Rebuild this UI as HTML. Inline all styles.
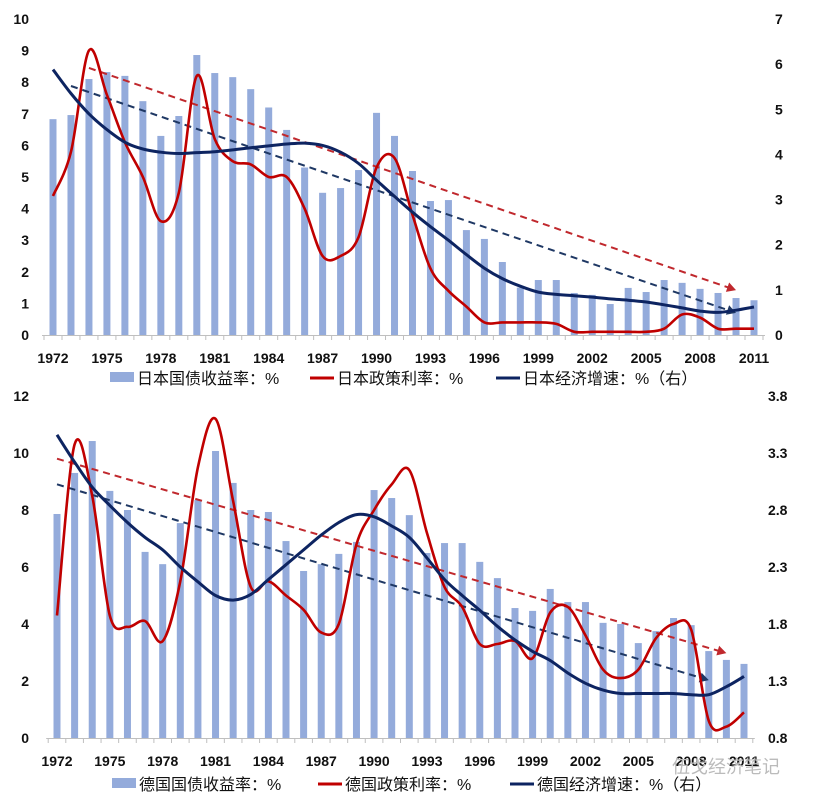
<!DOCTYPE html>
<html><head><meta charset="utf-8">
<style>
html,body{margin:0;padding:0;background:#fff;}
svg{display:block;font-family:"Liberation Sans","Noto Sans CJK SC",sans-serif;}
.tk{font-size:14px;font-weight:bold;fill:#111;}
.lg{font-size:16px;fill:#111;}
</style></head><body>
<svg id="chart" width="820" height="802" viewBox="0 0 820 802"></svg>
<script>
// ---------- data ----------
const years = [];
for (let y = 1972; y <= 2011; y++) years.push(y);
const yearTicks = [1972,1975,1978,1981,1984,1987,1990,1993,1996,1999,2002,2005,2008,2011];

const jpBond = [6.83,6.96,8.1,8.32,8.2,7.4,6.3,6.93,8.86,8.29,8.16,7.78,7.2,6.49,5.3,4.5,4.65,5.22,7.03,6.3,5.19,4.24,4.27,3.32,3.04,2.31,1.5,1.74,1.74,1.33,1.27,0.98,1.49,1.36,1.74,1.65,1.46,1.33,1.17,1.1];
const jpPolicy = [4.4,5.8,9.0,7.6,6.1,5.0,3.6,4.5,8.2,6.2,5.5,5.4,5.0,5.0,4.0,2.5,2.5,3.1,5.3,5.6,3.8,2.1,1.4,0.9,0.4,0.4,0.4,0.4,0.35,0.1,0.1,0.1,0.1,0.1,0.2,0.65,0.55,0.2,0.2,0.2];
const jpGrowth = [5.88,5.35,4.9,4.55,4.27,4.12,4.05,4.02,4.04,4.06,4.1,4.15,4.19,4.23,4.25,4.2,4.05,3.8,3.43,3.07,2.72,2.4,2.1,1.78,1.48,1.25,1.08,0.95,0.9,0.87,0.84,0.8,0.77,0.73,0.67,0.6,0.53,0.5,0.55,0.62];
const jpTrendRed = [[1974,8.45],[2010,1.42]];
const jpTrendBlue = [[1973,7.88],[2010,0.7]];
const jpLeftTicks = [0,1,2,3,4,5,6,7,8,9,10];
const jpRightTicks = [0,1,2,3,4,5,6,7];

const deBond = [7.86,9.3,10.42,8.67,8.0,6.53,6.1,7.54,8.35,10.07,8.95,8.0,7.93,6.91,5.86,6.1,6.46,6.88,8.7,8.42,7.82,6.49,6.84,6.84,6.18,5.61,4.56,4.46,5.23,4.77,4.77,4.04,4.0,3.33,3.75,4.21,3.96,3.05,2.74,2.6];
const dePolicy = [4.3,10.3,8.5,4.3,3.9,4.1,3.4,5.5,9.5,11.2,8.3,5.3,5.5,5.0,4.5,3.7,4.0,6.8,8.0,8.9,9.4,7.2,5.3,4.6,3.3,3.3,3.4,2.8,4.4,4.6,3.6,2.4,2.1,2.4,3.5,4.0,3.8,0.6,0.4,0.9];
const deGrowth = [3.46,3.22,3.0,2.84,2.69,2.56,2.45,2.3,2.17,2.05,2.01,2.06,2.19,2.32,2.45,2.58,2.69,2.76,2.74,2.66,2.56,2.38,2.19,2.05,1.92,1.78,1.66,1.56,1.48,1.37,1.28,1.22,1.19,1.19,1.19,1.19,1.18,1.18,1.25,1.34];
const deTrendRed = [[1972,9.8],[2010,2.98]];
const deTrendBlue = [[1972,8.9],[2009,2.03]];
const deLeftTicks = [0,2,4,6,8,10,12];
const deRightTicks = [0.8,1.3,1.8,2.3,2.8,3.3,3.8];

const jpLegend = ["日本国债收益率：%","日本政策利率：%","日本经济增速：%（右）"];
const deLegend = ["德国国债收益率：%","德国政策利率：%","德国经济增速：%（右）"];

// ---------- drawing ----------
const NS = "http://www.w3.org/2000/svg";
const svg = document.getElementById("chart");
function mk(tag, attrs, parent) {
  const e = document.createElementNS(NS, tag);
  for (const k in attrs) e.setAttribute(k, attrs[k]);
  (parent || svg).appendChild(e);
  return e;
}
function smooth(pts) {
  let d = "M" + pts[0][0].toFixed(1) + "," + pts[0][1].toFixed(1);
  for (let i = 0; i < pts.length - 1; i++) {
    const p0 = pts[i - 1] || pts[i], p1 = pts[i], p2 = pts[i + 1], p3 = pts[i + 2] || p2;
    const c1 = [p1[0] + (p2[0] - p0[0]) / 6, p1[1] + (p2[1] - p0[1]) / 6];
    const c2 = [p2[0] - (p3[0] - p1[0]) / 6, p2[1] - (p3[1] - p1[1]) / 6];
    d += "C" + c1[0].toFixed(1) + "," + c1[1].toFixed(1) + " " + c2[0].toFixed(1) + "," + c2[1].toFixed(1) + " " + p2[0].toFixed(1) + "," + p2[1].toFixed(1);
  }
  return d;
}

function drawChart(c) {
  const g = mk("g", {});
  
  
  const xS = yr => c.x0 + (yr - years[0]) * (c.x1 - c.x0) / (years[years.length - 1] - years[0]);
  const yL = v => c.yb - (v - c.lMin) * (c.yb - c.yt) / (c.lMax - c.lMin);
  const yR = v => c.yb - (v - c.rMin) * (c.yb - c.yt) / (c.rMax - c.rMin);
  const step = (c.x1 - c.x0) / (years.length - 1);

  const ax = mk("line", {x1: c.x0 - step / 2 - 2, x2: c.x1 + step / 2 + 2, y1: c.yb + 0.5, y2: c.yb + 0.5, stroke: "#bfbfbf", "stroke-width": 1}, g);
  
  
  for (let i = 0; i <= years.length; i++) {
    const x = c.x0 - step / 2 + i * step;
    const t = mk("line", {x1: x, x2: x, y1: c.yb, y2: c.yb + 5, stroke: "#bfbfbf"}, g);
    
    
  }
  yearTicks.forEach(yr => {
    const t = mk("text", {x: xS(yr), y: c.yb + 28, "text-anchor": "middle", class: "tk"}, g);
    t.textContent = yr;
    
    
  });
  c.lTicks.forEach(v => {
    const t = mk("text", {x: 29, y: yL(v) + 5, "text-anchor": "end", class: "tk"}, g);
    t.textContent = v;
    
    
  });
  c.rTicks.forEach(v => {
    const t = mk("text", {x: c.rx, y: yR(v) + 5, "text-anchor": "start", class: "tk"}, g);
    t.textContent = c.rDec ? v.toFixed(1) : v;
    
    
  });

  c.bond.forEach((v, i) => {
    const x = xS(years[i]);
    const b = mk("rect", {x: x - 3.5, y: yL(v), width: 7, height: c.yb - yL(v), fill: "#94abdb"}, g);
    
    
  });

  function trend(tr, color, axisFn, name) {
    const xA = xS(tr[0][0]), yA = axisFn(tr[0][1]), xB = xS(tr[1][0]), yB = axisFn(tr[1][1]);
    const ang = Math.atan2(yB - yA, xB - xA);
    const l = mk("line", {x1: xA, y1: yA, x2: xB - 7 * Math.cos(ang), y2: yB - 7 * Math.sin(ang), stroke: color, "stroke-width": 2, "stroke-dasharray": "7,5"}, g);
    
    
    const s = 9, w = 5;
    const p = [[xB, yB],
      [xB - s * Math.cos(ang) + w * Math.sin(ang), yB - s * Math.sin(ang) - w * Math.cos(ang)],
      [xB - s * Math.cos(ang) - w * Math.sin(ang), yB - s * Math.sin(ang) + w * Math.cos(ang)]];
    const a = mk("polygon", {points: p.map(q => q.join(",")).join(" "), fill: color}, g);
    
    
  }
  trend(c.trendRed, "#c0282d", yL, c.prefix + '-policy-trend-arrow');
  trend(c.trendBlue, "#1f3864", yL, c.prefix + '-growth-trend-arrow');

  const rp = mk("path", {d: smooth(c.policy.map((v, i) => [xS(years[i]), yL(v)])), fill: "none", stroke: "#c00000", "stroke-width": 2.6}, g);
  
  
  const bp = mk("path", {d: smooth(c.growth.map((v, i) => [xS(years[i]), yR(v)])), fill: "none", stroke: "#0d2461", "stroke-width": 3}, g);
  
  

  const ly = c.ly;
  const l1 = mk("rect", {x: c.lx[0], y: ly - 6, width: 24, height: 10, fill: "#94abdb"}, g);
  
  
  const l2 = mk("line", {x1: c.lx[1], x2: c.lx[1] + 24, y1: ly, y2: ly, stroke: "#c00000", "stroke-width": 3}, g);
  
  
  const l3 = mk("line", {x1: c.lx[2], x2: c.lx[2] + 24, y1: ly, y2: ly, stroke: "#0d2461", "stroke-width": 3}, g);
  
  
  c.legend.forEach((s, i) => {
    const t = mk("text", {x: c.lx[i] + 27, y: ly + 6, class: "lg"}, g);
    t.textContent = s;
    
    
  });
}

drawChart({prefix: "japan", x0: 53, x1: 754, yb: 335, yt: 19, lMin: 0, lMax: 10, rMin: 0, rMax: 7,
  rx: 775, rDec: false, lTicks: jpLeftTicks, rTicks: jpRightTicks,
  bond: jpBond, policy: jpPolicy, growth: jpGrowth, trendRed: jpTrendRed, trendBlue: jpTrendBlue,
  ly: 378, lx: [110, 310, 496], legend: jpLegend});
drawChart({prefix: "germany", x0: 57, x1: 744, yb: 738, yt: 396, lMin: 0, lMax: 12, rMin: 0.8, rMax: 3.8,
  rx: 768, rDec: true, lTicks: deLeftTicks, rTicks: deRightTicks,
  bond: deBond, policy: dePolicy, growth: deGrowth, trendRed: deTrendRed, trendBlue: deTrendBlue,
  ly: 784, lx: [112, 318, 510], legend: deLegend});

const wm = mk("text", {x: 672, y: 773, fill: "#bbbbbb", "font-size": "18px"});
wm.textContent = "伍戈经济笔记";


</script>
</body></html>
